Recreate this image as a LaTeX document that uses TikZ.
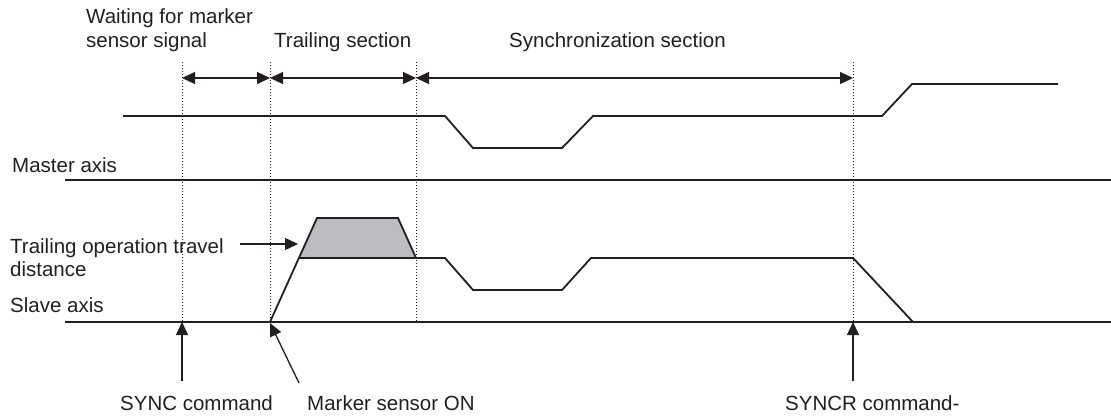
\documentclass[tikz,border=0pt]{standalone}
\usepackage{fontspec}
\setmainfont{Liberation Sans}
\usetikzlibrary{arrows.meta}
\definecolor{ink}{HTML}{231F20}
\definecolor{trapgray}{HTML}{BCBDC0}
\begin{document}
\begin{tikzpicture}[x=1pt,y=-1pt,
  lbl/.style={anchor=base west,inner sep=0pt,font=\fontsize{20.5}{24}\selectfont,text=ink},
  wave/.style={line width=1.8pt,draw=ink,line join=miter},
  axisline/.style={line width=1.8pt,draw=ink},
  guide/.style={line width=1pt,draw=ink,dash pattern=on 1pt off 2pt},
  dim/.style={line width=1.3pt,draw=ink,{Triangle[length=13pt,width=12pt]}-{Triangle[length=13pt,width=12pt]}},
  ptr/.style={line width=1.3pt,draw=ink,-{Triangle[length=13pt,width=12pt]}}
]
\useasboundingbox (0,0) rectangle (1111,418);

% labels
\node[lbl] (wait1) at (86,23) {Waiting for marker};
\node[lbl] (wait2) at (86,47) {sensor signal};
\node[lbl] (trail) at (274,47) {Trailing section};
\node[lbl] (sync) at (509,47) {Synchronization section};
\node[lbl] (master) at (12,172) {Master axis};
\node[lbl] (travel1) at (10,253) {Trailing operation travel};
\node[lbl] (travel2) at (10,276) {distance};
\node[lbl] (slave) at (10,312) {Slave axis};
\node[lbl] (synccmd) at (120,410) {SYNC command};
\node[lbl] (marker) at (307,410) {Marker sensor ON};
\node[lbl] (synccr) at (785,410) {SYNCR command-};

% guide coordinates
\coordinate (g1t) at (182,62); \coordinate (g1b) at (182,382);
\coordinate (g2t) at (270,62); \coordinate (g2b) at (270,322);
\coordinate (g3t) at (416,62); \coordinate (g3b) at (416,322);
\coordinate (g4t) at (853,62); \coordinate (g4b) at (853,382);

% axes
\draw[axisline] (65,180) -- (1111,180);
\draw[axisline] (65,322) -- (1111,322);

% trailing travel area
\fill[trapgray] (298,258) -- (317,218) -- (398,218) -- (416,258) -- cycle;
\draw[wave] (298,258) -- (416,258);

% master waveform
\draw[wave] (123,116) -- (445,116) -- (473,148) -- (562,148) -- (593,116)
  -- (882,116) -- (912,84) -- (1058,84);

% slave waveform
\draw[wave] (270,322) -- (317,218) -- (398,218) -- (416,258) -- (445,258)
  -- (473,290) -- (562,290) -- (591,258) -- (853,258) -- (913,322);

% dotted guides
\draw[guide] (g1t) -- (g1b);
\draw[guide] (g2t) -- (g2b);
\draw[guide] (g3t) -- (g3b);
\draw[guide] (g4t) -- (g4b);

% section dimension arrows
\coordinate (a1) at (182,78); \coordinate (a2) at (270,78);
\coordinate (a3) at (416,78); \coordinate (a4) at (853,78);
\draw[dim] (a1) -- (a2);
\draw[dim] (a2) -- (a3);
\draw[dim] (a3) -- (a4);

% pointers
\coordinate (p1s) at (182,381); \coordinate (p1e) at (182,322);
\coordinate (p2s) at (299,383); \coordinate (p2e) at (270,323);
\coordinate (p3s) at (853,381); \coordinate (p3e) at (853,322);
\coordinate (p4s) at (240,244); \coordinate (p4e) at (298,244);
\draw[ptr] (p1s) -- (p1e);
\draw[ptr] (p2s) -- (p2e);
\draw[ptr] (p3s) -- (p3e);
\draw[ptr] (p4s) -- (p4e);
\end{tikzpicture}
\end{document}
